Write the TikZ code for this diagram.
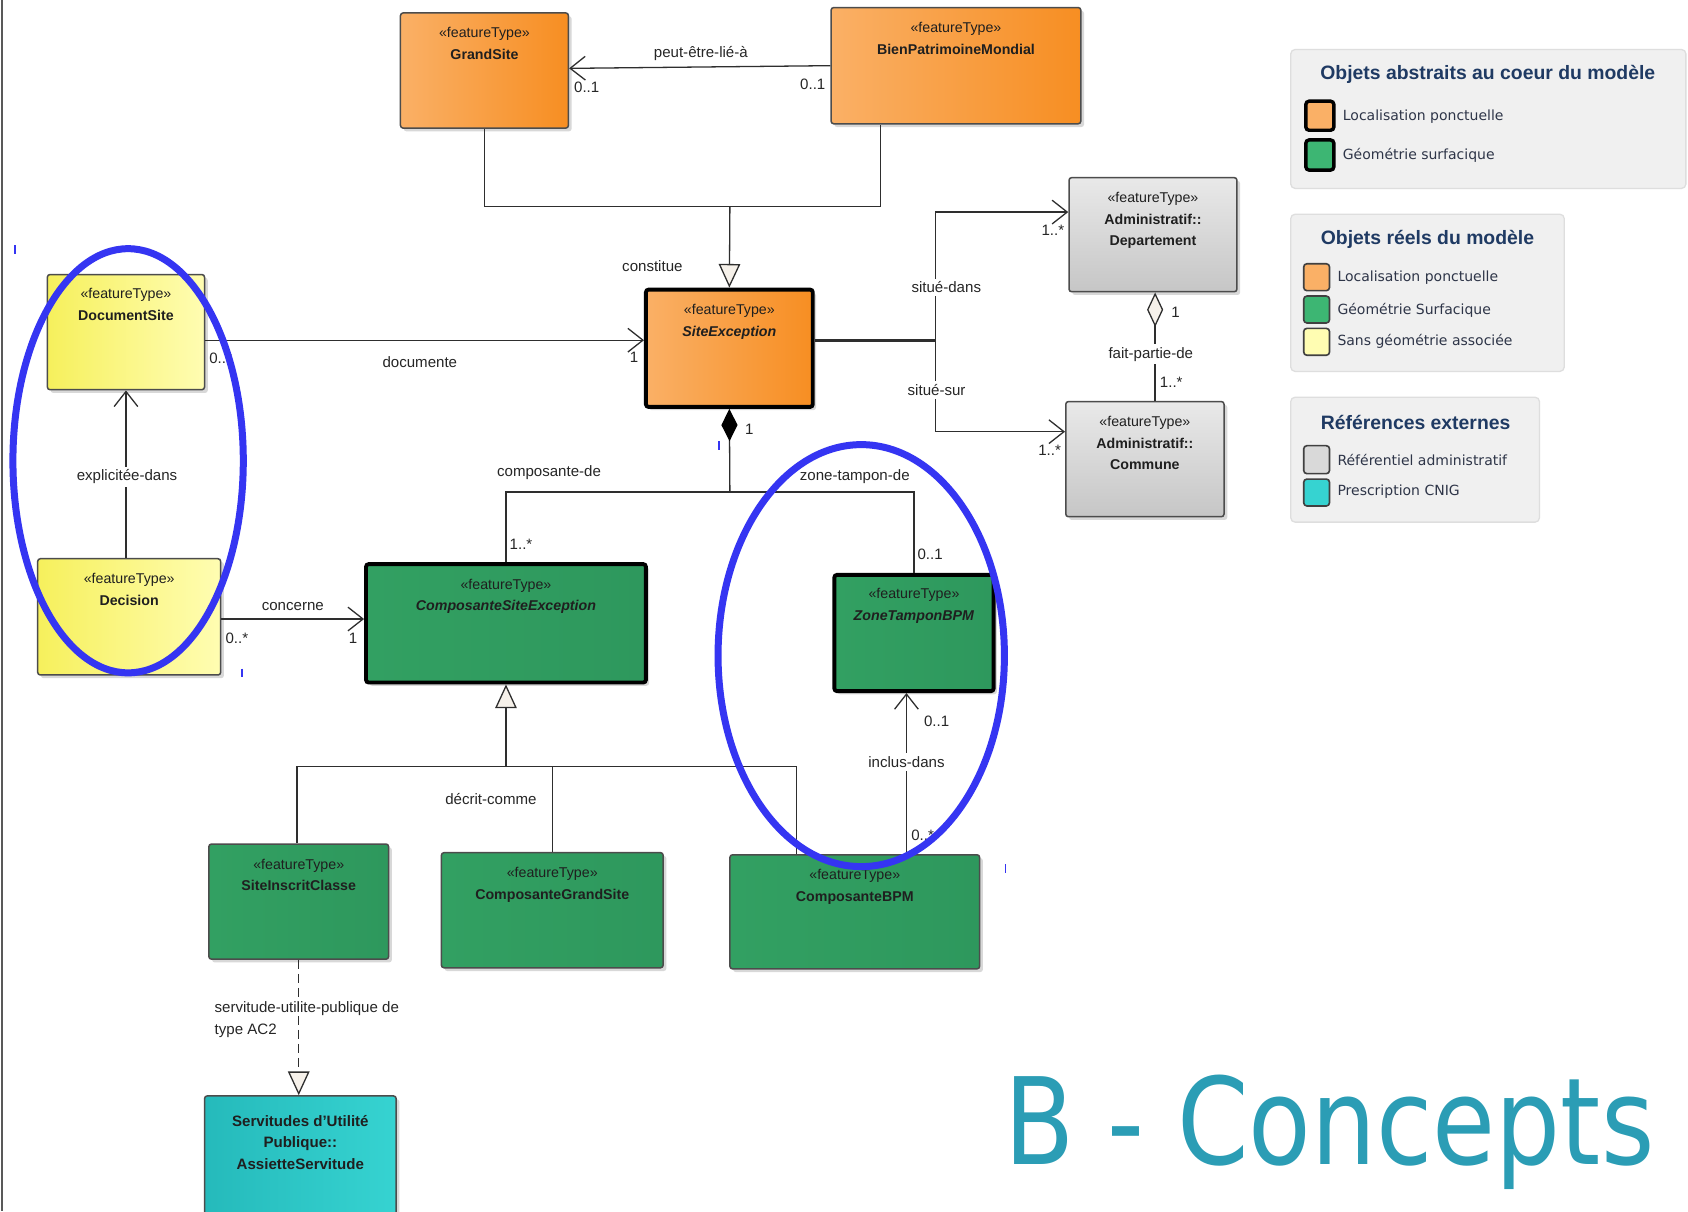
\documentclass[tikz,border=0pt]{standalone}
\usepackage{fontspec}
\setmainfont{Liberation Sans}
\newfontfamily\dvfont{DejaVu Sans}
\usetikzlibrary{arrows.meta,shadows,fit,calc}
\newdimen\upx \upx=0.5pt
\definecolor{orL}{HTML}{FAB066}
\definecolor{orR}{HTML}{F78E22}
\definecolor{grL}{HTML}{32A062}
\definecolor{grM}{HTML}{3DB673}
\definecolor{grR}{HTML}{2E985D}
\definecolor{yeL}{HTML}{F6F05C}
\definecolor{yeR}{HTML}{FFFDB2}
\definecolor{gyT}{HTML}{E9E9E9}
\definecolor{gyB}{HTML}{C6C6C6}
\definecolor{cyL}{HTML}{25BABB}
\definecolor{cyR}{HTML}{36D3D1}
\definecolor{ttl}{HTML}{1F3A63}
\definecolor{legtx}{HTML}{2E3548}
\definecolor{bigc}{HTML}{2B9DB5}
\definecolor{ellc}{HTML}{3535F2}
\definecolor{genfill}{HTML}{F6F1EA}
\tikzset{
  box/.style={draw=black!70, line width=1.4\upx, rounded corners=2.5\upx, inner sep=0pt,
    drop shadow={shadow xshift=3\upx, shadow yshift=-3\upx, fill=black!25, opacity=0.6}},
  thickbox/.style={box, draw=black, line width=3.6\upx},
  orangeF/.style={left color=orL, right color=orR},
  greenF/.style={left color=grL, middle color=grM, right color=grR},
  yellowF/.style={left color=yeL, right color=yeR},
  grayF/.style={top color=gyT, bottom color=gyB},
  cyanF/.style={left color=cyL, right color=cyR},
  btext/.style={anchor=north, align=center, inner sep=0pt, text=black!88,
    font=\fontsize{6.6pt}{10pt}\selectfont},
  lbl/.style={inner sep=0pt, text=black!85, font=\fontsize{7pt}{10pt}\selectfont},
  lblw/.style={lbl, fill=white, inner sep=1.5pt},
  conn/.style={draw=black!82, line width=1.2\upx},
  barb/.style={-{Straight Barb[length=7pt,width=11pt]}},
  gen/.style={-{Triangle[length=11pt,width=10pt,fill=genfill]}},
  legbox/.style={draw=black!13, fill=black!6, line width=1.2\upx, rounded corners=4\upx, inner sep=0pt},
  legtitle/.style={inner sep=0pt, text=ttl, font=\fontsize{9pt}{11pt}\selectfont\bfseries},
  legtext/.style={anchor=west, inner sep=0pt, text=legtx, font=\dvfont\fontsize{6.5pt}{8pt}\selectfont},
  swthick/.style={draw=black, line width=3.2\upx, rounded corners=3\upx, inner sep=0pt},
  swthin/.style={draw=black!75, line width=1.5\upx, rounded corners=3\upx, inner sep=0pt},
  bluering/.style={draw=ellc, line width=6.5\upx},
  tick/.style={draw=ellc, line width=1.5\upx},
}
\begin{document}
\begin{tikzpicture}[x=0.5pt,y=-0.5pt]
\useasboundingbox (0,0) rectangle (1568,1125);
\fill[white] (0,0) rectangle (1568,1125);
\draw[black!65, line width=2\upx] (2,0) -- (2,1125);

% ---------- boxes ----------
\node[box, orangeF, fit={(372,12)(528,119)}] (gs) {};
\node[btext] (gs-t) at ([yshift=-14\upx]gs.north) {«featureType»\\\textbf{GrandSite}};
\node[box, orangeF, fit={(772,7)(1004,115)}] (bpm) {};
\node[btext] (bpm-t) at ([yshift=-14\upx]bpm.north) {«featureType»\\\textbf{BienPatrimoineMondial}};
\node[thickbox, orangeF, fit={(600,269)(755,378)}] (se) {};
\node[btext] (se-t) at ([yshift=-15\upx]se.north) {«featureType»\\\textbf{\itshape SiteException}};
\node[box, yellowF, fit={(44,255)(190,362)}] (ds) {};
\node[btext] (ds-t) at ([yshift=-13\upx]ds.north) {«featureType»\\\textbf{DocumentSite}};
\node[box, yellowF, fit={(35,519)(205,627)}] (dec) {};
\node[btext] (dec-t) at ([yshift=-14\upx]dec.north) {«featureType»\\\textbf{Decision}};
\node[thickbox, greenF, fit={(340,524)(600,634)}] (cse) {};
\node[btext] (cse-t) at ([yshift=-15\upx]cse.north) {«featureType»\\\textbf{\itshape ComposanteSiteException}};
\node[thickbox, greenF, fit={(775,534)(923,642)}] (ztb) {};
\node[btext] (ztb-t) at ([yshift=-14\upx]ztb.north) {«featureType»\\\textbf{\itshape ZoneTamponBPM}};
\node[box, grayF, fit={(993,165)(1149,271)}] (dep) {};
\node[btext] (dep-t) at ([yshift=-14\upx]dep.north) {«featureType»\\\textbf{Administratif::}\\\textbf{Departement}};
\node[box, grayF, fit={(990,373)(1137,480)}] (com) {};
\node[btext] (com-t) at ([yshift=-14\upx]com.north) {«featureType»\\\textbf{Administratif::}\\\textbf{Commune}};
\node[box, greenF, fit={(194,784)(361,891)}] (sic) {};
\node[btext] (sic-t) at ([yshift=-14\upx]sic.north) {«featureType»\\\textbf{SiteInscritClasse}};
\node[box, greenF, fit={(410,792)(616,899)}] (cgs) {};
\node[btext] (cgs-t) at ([yshift=-14\upx]cgs.north) {«featureType»\\\textbf{ComposanteGrandSite}};
\node[box, greenF, fit={(678,794)(910,900)}] (cbpm) {};
\node[btext] (cbpm-t) at ([yshift=-14\upx]cbpm.north) {«featureType»\\\textbf{ComposanteBPM}};
\node[box, cyanF, fit={(190,1018)(368,1135)}] (asv) {};
\node[btext, font=\fontsize{7pt}{10pt}\selectfont\bfseries] (asv-t) at ([yshift=-18\upx]asv.north) {Servitudes d'Utilité\\Publique::\\AssietteServitude};

% ---------- connectors ----------
\draw[conn, barb] (bpm.west) -- ([yshift=2\upx]gs.east);
\coordinate (gj) at (678,192);
\draw[conn] (gs.south) |- (gj) -| ([xshift=-70\upx]bpm.south);
\draw[conn, gen] (gj) -- (se.north);
\draw[conn, barb] ([yshift=-7.5\upx]ds.east) -- ([yshift=7.5\upx]se.west);
\draw[conn, barb] (dec.north -| ds.south) -- (ds.south);
\coordinate (c1) at ([yshift=-2\upx]dec.east);
\draw[conn, barb] (c1) -- (cse.west |- c1);
\coordinate (cj) at (678,457);
\draw[conn, {Diamond[length=15pt,width=7.5pt,color=black]}-] (se.south) -- (cj);
\draw[conn] (cse.north) |- (ztb.north |- cj) -- (ztb.north);
\coordinate (sj) at (869,316);
\draw[conn, line width=3\upx] ([yshift=7.5\upx]se.east) -- (sj);
\draw[conn, barb] (sj) |- ([yshift=21\upx]dep.west);
\draw[conn, barb] (sj) |- ([yshift=25.5\upx]com.west);
\draw[conn, {Diamond[length=16pt,width=7.5pt,fill=genfill]}-] ([xshift=2\upx]dep.south) -- ([xshift=2\upx]dep.south |- com.north);
\coordinate (gj2) at (470,712);
\draw[conn, gen] (gj2) -- (cse.south);
\coordinate (b1) at ([xshift=-54\upx]cbpm.north);
\draw[conn] ([xshift=-1.5\upx]sic.north) |- (b1 |- gj2) -- (b1);
\draw[conn] (cgs.north) -- (cgs.north |- gj2);
\coordinate (b2) at ([xshift=48\upx]cbpm.north);
\draw[conn, barb] (b2) -- (b2 |- ztb.south);
\draw[conn, dashed, dash pattern=on 8\upx off 5\upx, gen] (sic.south) -- (sic.south |- asv.north);

% ---------- labels ----------
\node[lbl] (l1) at (651,50) {peut-être-lié-à};
\node[lbl] (m1) at (545,81) {0..1};
\node[lbl] (m2) at (755,78) {0..1};
\node[lbl] (l2) at (606,247) {constitue};
\node[lbl] (l3) at (390,336) {documente};
\node[lbl, anchor=west] (m3) at (194,333) {0..*};
\node[lbl] (m4) at (589,332) {1};
\node[lblw] (l4) at (118,443) {explicitée-dans};
\node[lbl] (l5) at (272,563) {concerne};
\node[lbl] (m5) at (220,593) {0..*};
\node[lbl] (m6) at (328,593) {1};
\node[lbl] (m7) at (696,399) {1};
\node[lbl] (l6) at (510,439) {composante-de};
\node[lbl] (m8) at (484,506) {1..*};
\node[lbl] (l7) at (794,443) {zone-tampon-de};
\node[lbl] (m9) at (864,515) {0..1};
\node[lblw] (l8) at (879,267) {situé-dans};
\node[lblw] (l9) at (870,362) {situé-sur};
\node[lbl] (m10) at (978,214) {1..*};
\node[lbl] (m11) at (975,418) {1..*};
\node[lbl] (m12) at (1092,290) {1};
\node[lblw] (l10) at (1069,329) {fait-partie-de};
\node[lbl] (m13) at (1088,355) {1..*};
\node[lbl] (l11) at (456,742) {décrit-comme};
\node[lbl] (m14) at (870,670) {0..1};
\node[lblw] (l12) at (842,708) {inclus-dans};
\node[lbl] (m15) at (857,776) {0..*};
\node[lbl, anchor=west, align=left] (l13) at (199,947) {servitude-utilite-publique de\\type AC2};

% ---------- legend ----------
\node[legbox, fit={(1199,46)(1566,175)}] (lg1) {};
\node[legtitle] (lg1-t) at (1382,69) {Objets abstraits au coeur du modèle};
\node[swthick, fill=orL, fit={(1213,94)(1239,121)}] (lg1-s1) {};
\node[legtext] (lg1-x1) at (1247,108) {Localisation ponctuelle};
\node[swthick, fill=grM, fit={(1213,130)(1239,158)}] (lg1-s2) {};
\node[legtext] (lg1-x2) at (1247,144) {Géométrie surfacique};

\node[legbox, fit={(1199,199)(1453,345)}] (lg2) {};
\node[legtitle] (lg2-t) at (1326,222) {Objets réels du modèle};
\node[swthin, fill=orL, fit={(1211,245)(1235,270)}] (lg2-s1) {};
\node[legtext] (lg2-x1) at (1242,258) {Localisation ponctuelle};
\node[swthin, fill=grM, fit={(1211,275)(1235,300)}] (lg2-s2) {};
\node[legtext] (lg2-x2) at (1242,288) {Géométrie Surfacique};
\node[swthin, fill=yeR, fit={(1211,305)(1235,330)}] (lg2-s3) {};
\node[legtext] (lg2-x3) at (1242,317) {Sans géométrie associée};

\node[legbox, fit={(1199,369)(1430,485)}] (lg3) {};
\node[legtitle] (lg3-t) at (1315,392) {Références externes};
\node[swthin, fill=black!15, fit={(1211,414)(1235,440)}] (lg3-s1) {};
\node[legtext] (lg3-x1) at (1242,427) {Référentiel administratif};
\node[swthin, fill=cyR, fit={(1211,445)(1235,470)}] (lg3-s2) {};
\node[legtext] (lg3-x2) at (1242,457) {Prescription CNIG};

% ---------- title ----------
\node[anchor=base west, inner sep=0pt, text=bigc] (bt) at (933,1082)
  {\scalebox{0.85}[1]{\dvfont\fontsize{56pt}{60pt}\selectfont B - Concepts}};

% ---------- blue highlights ----------
\draw[bluering] (119,428) ellipse [x radius=107\upx, y radius=197\upx];
\draw[bluering] (800,609) ellipse [x radius=133\upx, y radius=196\upx];
\draw[tick] (14,228) -- (14,236);
\draw[tick] (225,621) -- (225,629);
\draw[tick] (668,410) -- (668,418);
\draw[tick] (934,803) -- (934,811);
\end{tikzpicture}
\end{document}
